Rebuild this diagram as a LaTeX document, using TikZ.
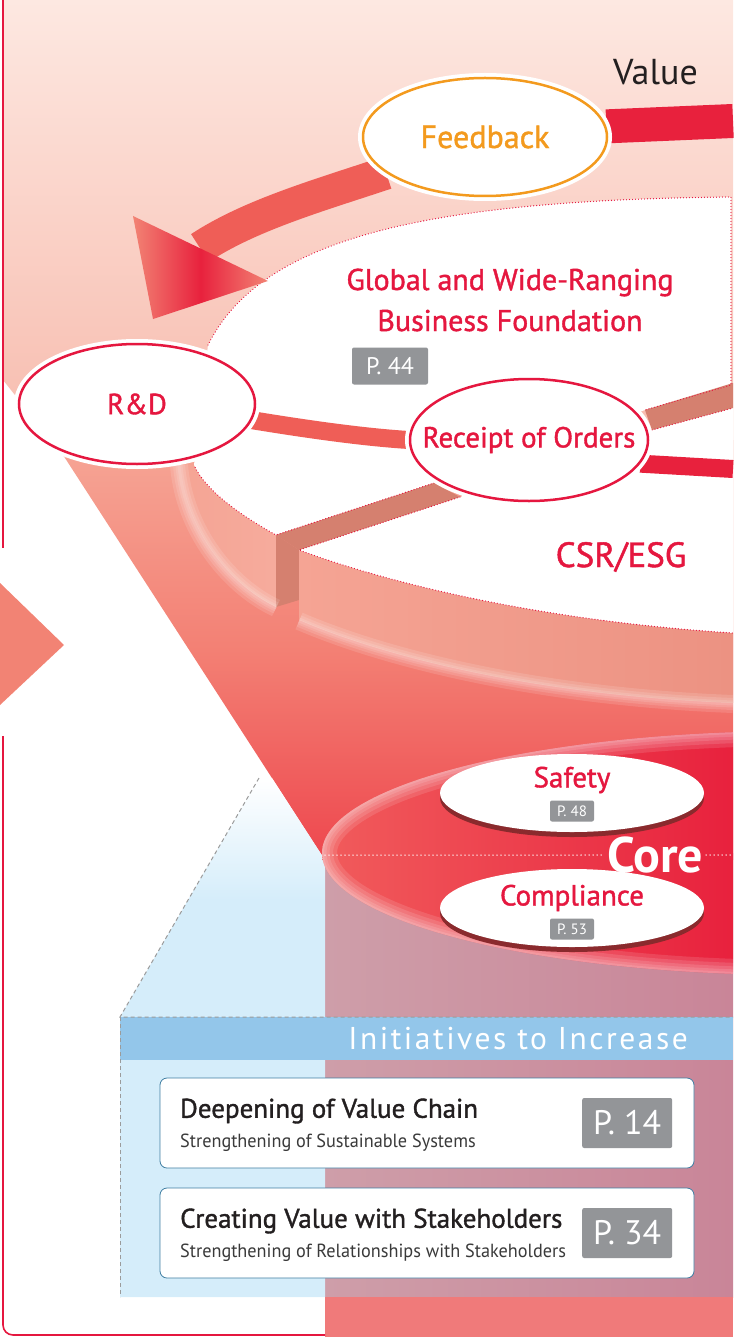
\documentclass[tikz,border=0pt]{standalone}
\usepackage{fontspec}
\setmainfont{PT Sans}
\newfontfamily\spaced[LetterSpace=8]{PT Sans}
\newfontfamily\heavy[FakeBold=1.3]{PT Sans}
\newfontfamily\slim[FakeStretch=0.96]{PT Sans}
\usetikzlibrary{shapes.geometric,positioning}

\definecolor{vred}{HTML}{E5173F}
\definecolor{vorange}{HTML}{F39A1E}
\definecolor{vdark}{HTML}{231F20}
\definecolor{subgray}{HTML}{3A3A3A}
\definecolor{pinktop}{HTML}{FDE8E1}
\definecolor{pinklow}{HTML}{F7B9AB}
\definecolor{ringsal}{HTML}{F5A494}
\definecolor{ringdeep}{HTML}{EC9282}
\definecolor{slab}{HTML}{D5806F}
\definecolor{funtop}{HTML}{F6A696}
\definecolor{funmid}{HTML}{F38074}
\definecolor{funlow}{HTML}{EE474E}
\definecolor{coreleft}{HTML}{F15C5C}
\definecolor{coreright}{HTML}{E8213D}
\definecolor{pillshade}{HTML}{8A2A2D}
\definecolor{taggray}{HTML}{939598}
\definecolor{barblue}{HTML}{93C6EA}
\definecolor{paleblue}{HTML}{D5EDFA}
\definecolor{roseL}{HTML}{CE9EA9}
\definecolor{roseR}{HTML}{C98598}
\definecolor{colfoot}{HTML}{F07A7A}
\definecolor{boxline}{HTML}{3F7EA2}
\definecolor{dashgray}{HTML}{9B9B9B}
\definecolor{arrowsal}{HTML}{F28374}
\definecolor{bandsal}{HTML}{EF5E57}

\pgfdeclarelayer{scenery}
\pgfdeclarelayer{bands}
\pgfsetlayers{scenery,bands,main}

\newcommand{\px}[1]{\fontsize{#1}{#1}\selectfont}

\tikzset{every node/.style={inner sep=0pt}}
\tikzset{stage/.style={shape=ellipse, inner xsep=-30pt, fill=white, draw=vred, line width=2.5pt,
    preaction={draw=white, line width=10pt}, text=vred, font=\heavy\px{29}}}
\tikzset{pill/.style={shape=ellipse, fill=white, minimum width=264pt, minimum height=78pt,
    preaction={fill=pillshade, transform canvas={yshift=-5pt}}}}
\tikzset{tag/.style={fill=taggray, text=white, rounded corners=2pt}}
\tikzset{band/.style={line width=18pt}}
\tikzset{dots/.style={draw=vred, line width=1.3pt, line cap=round, dash pattern=on 0pt off 3pt}}
\tikzset{glow/.style={white, line width=#1, opacity=0.12}}
\tikzset{initbox/.style={draw=boxline, line width=0.8pt, fill=white, rounded corners=7pt,
    minimum width=534pt, minimum height=90pt}}
\tikzset{bigtag/.style={tag, minimum width=90pt, minimum height=50pt, font=\px{34}}}

\begin{document}
\begin{tikzpicture}[x=1pt, y=-1pt]
  \useasboundingbox (0,0) rectangle (733,1337);

  \begin{pgfonlayer}{scenery}
  % value layer and funnel
  \shade[top color=pinktop, bottom color=pinklow] (3,0) -- (733,0) -- (733,470) -- (65,458) -- (3,380) -- cycle;
  \shade[top color=funtop, bottom color=funlow, middle color=funmid] (65,458) -- (325,860) -- (733,860) -- (733,440) -- (180,440) -- cycle;

  % column under the core
  \shade[left color=roseL, right color=roseR] (325,853) rectangle (733,1297);
  \fill[colfoot] (325,1297) rectangle (733,1337);

  % pale blue zoom area
  \shade[top color=white, bottom color=paleblue] (259,778) -- (272,778) -- (325,860) -- (325,900) -- (188,900) -- cycle;
  \fill[paleblue] (188,900) -- (325,900) -- (325,1297) -- (120,1297) -- (120,1017) -- cycle;

  % core
  \begin{scope}
    \clip (800,853) ellipse [x radius=478pt, y radius=122pt];
    \shade[left color=coreleft, right color=coreright] (320,725) rectangle (733,980);
    \foreach \w in {30,22,15,9,4}
      \draw[glow=\w pt] (800,853) ellipse [x radius=478pt, y radius=122pt];
  \end{scope}

  % CSR/ESG ring
  \shade[left color=ringsal, right color=ringsal!92!white] (180,465) .. controls (185,530) and (230,585) .. (276,607)
    -- (276,535) .. controls (240,515) and (205,490) .. (194,465) -- cycle;
  \fill[slab] (276,535) -- (299,550) -- (299,600) -- (276,607) -- cycle;
  \shade[left color=ringsal, right color=ringdeep] (299,550) .. controls (380,580) and (530,620) .. (733,633)
    -- (733,703) .. controls (530,695) and (380,655) .. (299,620) -- cycle;
  \foreach \w in {18,12,7,3}{
    \draw[glow=\w pt] (299,621) .. controls (380,656) and (530,696) .. (733,704);
    \draw[glow=\w pt] (179,465) .. controls (184,530) and (229,586) .. (276,608);
  }

  % top faces
  \fill[white] (208,345) .. controls (260,240) and (420,200) .. (731,197) -- (731,385) -- (645,410)
    -- (434,483) -- (276,535) .. controls (240,515) and (205,490) .. (194,465) -- cycle;
  \fill[white] (299,550) -- (460,497) -- (652,430) -- (733,408) -- (733,633)
    .. controls (530,620) and (380,580) .. (299,550) -- cycle;
  \fill[slab] (645,410) -- (733,383) -- (733,408) -- (652,430) -- cycle;
  \fill[slab] (434,483) -- (276,535) -- (299,550) -- (460,497) -- cycle;

  \draw[dots] (208,345) .. controls (260,240) and (420,200) .. (731,197) -- (731,385) -- (645,410);
  \draw[dots] (652,430) -- (733,408);
  \draw[dots] (434,483) -- (276,535) .. controls (240,515) and (205,490) .. (194,465);
  \draw[dots] (460,497) -- (299,550) .. controls (380,580) and (530,620) .. (733,633);

  % initiatives panel
  \fill[barblue] (120,1017) rectangle (733,1060);
  \draw[dashgray, line width=1pt, dash pattern=on 4pt off 3pt] (259,778) -- (120,1017) -- (733,1017);
  \draw[dashgray, line width=1pt, dash pattern=on 4pt off 3pt] (120,1017) -- (120,1297);

  % frame and side arrow
  \fill[arrowsal] (0,583) -- (64,645) -- (0,705) -- cycle;
  \draw[vred, line width=1.6pt] (3,0) -- (3,548);
  \draw[vred, line width=1.6pt, rounded corners=10pt] (3,736) -- (3,1335) -- (325,1335);
  \end{pgfonlayer}

  % value loop
  \node[stage, draw=vorange, text=vorange, font=\heavy\px{32}, minimum width=244pt, minimum height=118pt] (fb) at (485,137) {Feedback};
  \node[stage, minimum width=236pt, minimum height=120pt] (rd) at (137,404) {R\&D};
  \node[stage, minimum width=238pt, minimum height=122pt] (ro) at (529,440) {Receipt of Orders};
  \coordinate (topright) at (733,121);
  \coordinate (midright) at (733,469);
  \coordinate (fbtip) at (200,248);

  \node[text=vdark, font=\px{36}, anchor=east] (value) at (698,72) {Value};
  \node[text=vred, font=\heavy\fontsize{30}{41}\selectfont, align=center] (found) at (510,300) {Global and Wide-Ranging\\Business Foundation};
  \node[tag, font=\px{24}, minimum width=76pt, minimum height=37pt] (p44) at (390,366) {P. 44};
  \node[text=vred, font=\heavy\px{35}] (csr) at (621,557) {CSR/ESG};

  % core
  \node[pill] (safety) at (572,793) {};
  \node[text=vred, font=\heavy\px{29}] (safetyT) at (572,780) {Safety};
  \node[tag, font=\px{15}, minimum width=44pt, minimum height=21pt] (p48) at (572,811) {P. 48};
  \node[pill] (compl) at (572,908) {};
  \node[text=vred, font=\heavy\px{29}] (complT) at (572,898) {Compliance};
  \node[tag, font=\px{15}, minimum width=44pt, minimum height=21pt] (p53) at (572,929) {P. 53};
  \node[text=white, font=\bfseries\px{50}] (core) at (655,855) {Core};
  \draw[white, line width=1.5pt, line cap=round, dash pattern=on 0pt off 4pt] (325,855) -- ([xshift=-3pt]core.west);
  \draw[white, line width=1.5pt, line cap=round, dash pattern=on 0pt off 4pt] ([xshift=3pt]core.east) -- (733,855);

  % initiatives
  \node[text=white, font=\spaced\px{31.5}, anchor=east] (init) at (688,1039) {Initiatives to Increase};
  \node[initbox] (chain) at (427,1123) {};
  \node[anchor=west, text=vdark, font=\heavy\px{27}] (chainT) at (180,1111) {Deepening of Value Chain};
  \node[anchor=west, text=subgray, font=\slim\px{19}] (chainS) at (180,1143) {Strengthening of Sustainable Systems};
  \node[bigtag, left=22pt of chain.east] (p14) {P. 14};
  \node[initbox] (stake) at (427,1233) {};
  \node[anchor=west, text=vdark, font=\heavy\px{27}] (stakeT) at (180,1221) {Creating Value with Stakeholders};
  \node[anchor=west, text=subgray, font=\slim\px{19}] (stakeS) at (180,1253) {Strengthening of Relationships with Stakeholders};
  \node[bigtag, left=22pt of stake.east] (p34) {P. 34};

  \begin{pgfonlayer}{bands}
  \path (fb.5) edge[band, draw=coreright, line width=34pt] (topright);
  \draw[band, draw=bandsal, line width=33pt] (fb.200) .. controls (320,195) and (250,215) .. (fbtip);
  \shade[left color=arrowsal, right color=arrowsal, middle color=coreright] (133,216) -- (268,281) -- (153,319) -- cycle;
  \draw[band, draw=bandsal] (rd.-8) .. controls (300,428) and (360,437) .. (ro.west);
  \path (ro.-12) edge[band, draw=coreright] (midright);
  \end{pgfonlayer}
\end{tikzpicture}
\end{document}
